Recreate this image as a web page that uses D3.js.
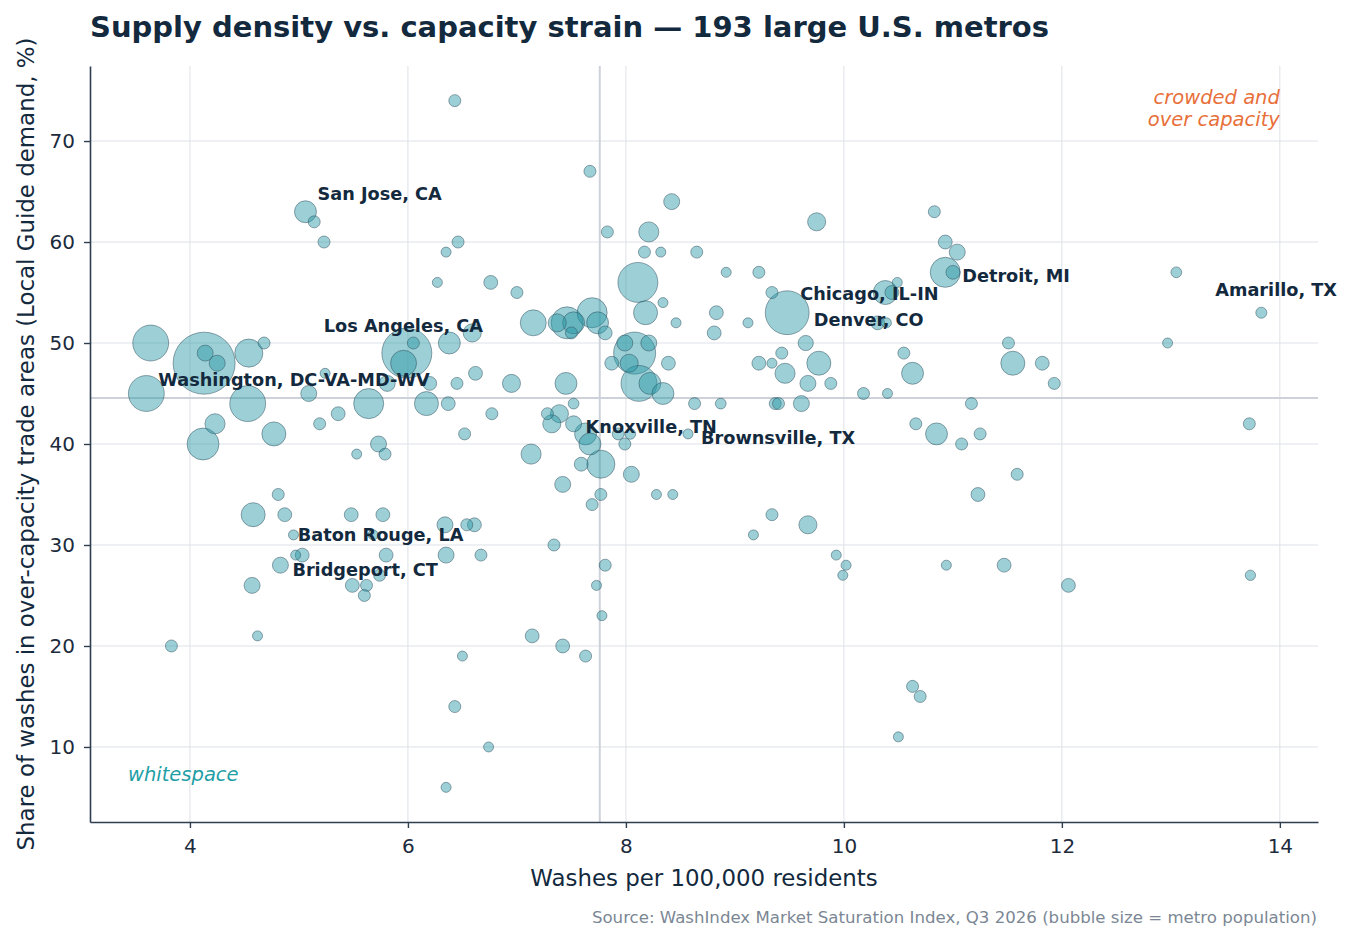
<!DOCTYPE html>
<html>
<head>
<meta charset="utf-8">
<script src="https://cdn.jsdelivr.net/npm/d3@7"></script>
<style>
	body { margin: 0; background: #fff; font-family: 'DejaVu Sans', sans-serif; }
	svg text { font-family: 'DejaVu Sans', sans-serif; }
</style>
</head>
<body>
<script>
// first 11 metros are the labelled ones
const NAMES = ['San Jose, CA', 'Los Angeles, CA', 'Washington, DC-VA-MD-WV', 'Chicago, IL-IN', 'Denver, CO',
	'Detroit, MI', 'Amarillo, TX', 'Knoxville, TN', 'Brownsville, TX', 'Baton Rouge, LA', 'Bridgeport, CT'];

// washes per 100,000 residents
const WASHES = [
	5.06, 5.99, 3.60, 9.48, 9.65, 10.93, 13.83, 7.52, 8.57, 4.87, 4.83,
	6.43, 7.67, 8.42, 10.83, 5.14, 9.75, 7.83, 8.21, 5.23, 6.46, 10.93,
	6.35, 8.17, 8.32, 8.65, 11.04, 8.92, 9.22, 11.00, 13.05,
	6.27, 6.76, 8.11, 10.49, 7.00, 9.34, 10.38, 10.44, 8.34,
	7.69, 8.18, 8.83,
	7.15, 7.37, 7.46, 7.52, 7.74, 8.46, 9.12, 10.31, 10.39,
	6.59, 7.50, 7.81, 8.81,
	3.64, 4.68, 6.05, 6.38, 7.99, 8.21, 11.51, 12.97,
	4.14, 4.54, 8.08, 9.43, 10.55,
	4.13, 4.25, 5.96, 7.87, 8.03, 8.39, 9.22, 9.34, 9.77, 11.55, 11.82,
	5.24, 6.62, 9.46, 10.63,
	5.81, 6.20, 6.45, 6.95, 7.45, 8.12, 8.22, 9.67, 9.88, 11.93,
	5.09, 8.34, 10.18, 10.40,
	4.53, 5.64, 6.17, 6.37, 7.52, 8.63, 8.87, 9.37, 9.40, 9.61, 11.17,
	5.36, 6.77, 7.28, 7.39,
	4.23, 5.19, 7.32, 10.66, 13.72,
	4.77, 6.52, 7.63, 7.93, 8.04, 10.85, 11.25,
	4.12, 5.73, 7.67, 7.99, 11.08,
	5.53, 5.79, 7.13, 7.59, 7.77, 8.05, 11.59, 7.42,
	4.81, 7.77, 8.28, 8.43, 11.23, 7.69,
	4.58, 5.48, 5.77, 9.34,
	6.34, 6.54, 6.61, 9.67,
	4.95, 5.68, 9.17, 7.34,
	4.97, 5.03, 5.80, 6.35, 6.67, 9.93,
	7.81, 10.02, 10.94, 11.47,
	5.74, 9.99, 13.73,
	4.57, 5.49, 5.62, 7.73, 12.06, 5.60, 7.78,
	4.62, 7.14, 3.83, 7.42, 6.50, 7.63,
	10.63, 10.70, 6.43, 10.50, 6.74, 6.35
];

// share of washes in over-capacity trade areas, %
const OVER_CAP = [
	63, 49, 45, 53, 50, 57, 53, 42, 41, 33, 28,
	74, 67, 64, 63, 62, 62, 61, 61, 60, 60, 60,
	59, 59, 59, 59, 59, 57, 57, 57, 57,
	56, 56, 56, 56, 55, 55, 55, 55, 54,
	53, 53, 53,
	52, 52, 52, 52, 52, 52, 52, 52, 52,
	51, 51, 51, 51,
	50, 50, 50, 50, 50, 50, 50, 50,
	49, 49, 49, 49, 49,
	48, 48, 48, 48, 48, 48, 48, 48, 48, 48, 48,
	47, 47, 47, 47,
	46, 46, 46, 46, 46, 46, 46, 46, 46, 46,
	45, 45, 45, 45,
	44, 44, 44, 44, 44, 44, 44, 44, 44, 44, 44,
	43, 43, 43, 43,
	42, 42, 42, 42, 42,
	41, 41, 41, 41, 41, 41, 41,
	40, 40, 40, 40, 40,
	39, 39, 39, 38, 38, 37, 37, 36,
	35, 35, 35, 35, 35, 34,
	33, 33, 33, 33,
	32, 32, 32, 32,
	31, 31, 31, 30,
	29, 29, 29, 29, 29, 29,
	28, 28, 28, 28,
	27, 27, 27,
	26, 26, 26, 26, 26, 25, 23,
	21, 21, 20, 20, 19, 19,
	16, 15, 14, 11, 10, 6
];

// metro population, millions
const POP = [
	2.5, 13.0, 6.7, 10.0, 1.2, 4.7, 0.63, 1.33, 0.52, 1.0, 1.33,
	0.75, 0.75, 1.33, 0.75, 0.75, 1.7, 0.75, 2.1, 0.75, 0.75, 1.0,
	0.52, 0.75, 0.52, 0.75, 1.33, 0.52, 0.75, 1.0, 0.6,
	0.52, 1.0, 8.3, 0.52, 0.75, 0.75, 3.0, 1.0, 0.52,
	4.7, 3.0, 1.0,
	3.5, 1.7, 5.3, 2.5, 2.5, 0.52, 0.52, 1.0, 0.52,
	1.7, 0.75, 1.0, 1.0,
	6.7, 0.75, 0.75, 2.5, 1.33, 1.33, 0.75, 0.52,
	1.33, 4.1, 9.2, 0.75, 0.75,
	20.0, 1.33, 3.5, 1.0, 1.7, 1.0, 1.0, 0.52, 3.0, 3.0, 1.0,
	0.52, 1.0, 2.1, 2.5,
	1.33, 1.0, 0.75, 1.7, 2.5, 6.7, 2.5, 1.33, 0.75, 0.75,
	1.33, 2.5, 0.75, 0.52,
	6.7, 4.7, 3.0, 1.0, 0.6, 0.75, 0.6, 0.75, 0.75, 1.33, 0.75,
	1.0, 0.75, 0.75, 1.7,
	2.1, 0.75, 1.7, 0.75, 0.75,
	3.0, 0.75, 2.5, 0.75, 0.6, 2.5, 0.75,
	5.3, 1.33, 2.5, 0.75, 0.75,
	0.52, 0.75, 2.1, 1.0, 4.1, 1.33, 0.75, 1.33,
	0.75, 0.75, 0.52, 0.52, 1.0, 0.75,
	3.0, 1.0, 1.0, 0.75,
	1.33, 0.75, 1.0, 1.7,
	0.52, 0.52, 0.52, 0.75,
	0.52, 1.0, 1.0, 1.33, 0.75, 0.52,
	0.75, 0.52, 0.52, 1.0,
	0.75, 0.52, 0.55,
	1.33, 1.0, 0.75, 0.52, 1.0, 0.75, 0.52,
	0.52, 1.0, 0.75, 1.0, 0.52, 0.75,
	0.75, 0.75, 0.75, 0.52, 0.52, 0.52
];

const X_TICKS = [4, 6, 8, 10, 12, 14];
const Y_TICKS = [10, 20, 30, 40, 50, 60, 70];
const MEDIAN_WASHES = 7.76;
const MEDIAN_OVER_CAP = 44.55;

const W = 1353, H = 942;
const M = { left: 90, right: 1318, top: 66, bottom: 822 };

let metros = WASHES.map((w, i) => ({ washes: w, overCap: OVER_CAP[i], pop: POP[i], name: NAMES[i] || null }));

let svg = d3.select('body').append('svg')
	.attr('width', W)
	.attr('height', H);

let x = d3.scaleLinear().domain([3.083, 14.35]).range([M.left, M.right]);
let y = d3.scaleLinear().domain([2.57, 77.43]).range([M.bottom, M.top]);
let r = d3.scaleSqrt().domain([0, 20]).range([0, 31]);

// grid
svg.append('g').selectAll('line')
	.data(X_TICKS)
	.enter().append('line')
	.attr('x1', d => x(d)).attr('x2', d => x(d))
	.attr('y1', M.top).attr('y2', M.bottom)
	.attr('stroke', '#dde1e7').attr('stroke-width', 1);
svg.append('g').selectAll('line')
	.data(Y_TICKS)
	.enter().append('line')
	.attr('x1', M.left).attr('x2', M.right)
	.attr('y1', d => y(d)).attr('y2', d => y(d))
	.attr('stroke', '#dde1e7').attr('stroke-width', 1);

// median guides
svg.append('line')
	.attr('x1', x(MEDIAN_WASHES)).attr('x2', x(MEDIAN_WASHES))
	.attr('y1', M.top).attr('y2', M.bottom)
	.attr('stroke', '#cdd1d9').attr('stroke-width', 2);
svg.append('line')
	.attr('x1', M.left).attr('x2', M.right)
	.attr('y1', y(MEDIAN_OVER_CAP)).attr('y2', y(MEDIAN_OVER_CAP))
	.attr('stroke', '#cdd1d9').attr('stroke-width', 2);

// bubbles, biggest at the back
svg.append('g').selectAll('circle')
	.data(metros.slice().sort((a, b) => b.pop - a.pop))
	.enter().append('circle')
	.attr('cx', d => x(d.washes))
	.attr('cy', d => y(d.overCap))
	.attr('r', d => r(d.pop))
	.attr('fill', '#2597a4')
	.attr('fill-opacity', 0.45)
	.attr('stroke', '#2c4c5c')
	.attr('stroke-opacity', 0.55)
	.attr('stroke-width', 0.9);

// axes
let xAxis = svg.append('g')
	.attr('transform', `translate(0,${M.bottom})`)
	.call(d3.axisBottom(x).tickValues(X_TICKS).tickSize(6).tickPadding(11).tickSizeOuter(0));
let yAxis = svg.append('g')
	.attr('transform', `translate(${M.left},0)`)
	.call(d3.axisLeft(y).tickValues(Y_TICKS).tickSize(6).tickPadding(9).tickSizeOuter(0));
[xAxis, yAxis].forEach(a => {
	a.select('.domain').attr('stroke', '#2d3e50').attr('stroke-width', 1.6);
	a.selectAll('.tick line').attr('stroke', '#2d3e50').attr('stroke-width', 1.4);
	a.selectAll('.tick text').attr('fill', '#1c2b3c').style('font-size', '20px');
});

// labels
const NUDGE = {
	'San Jose, CA': [12, -18], 'Los Angeles, CA': [-83, -27], 'Washington, DC-VA-MD-WV': [12, -14],
	'Chicago, IL-IN': [13, -19], 'Denver, CO': [8, -23], 'Detroit, MI': [17, 3], 'Amarillo, TX': [-46, -23],
	'Knoxville, TN': [12, 3], 'Brownsville, TX': [13, 4], 'Baton Rouge, LA': [13, 20], 'Bridgeport, CT': [12, 4]
};
svg.append('g').selectAll('text')
	.data(metros.filter(d => d.name))
	.enter().append('text')
	.attr('x', d => x(d.washes) + NUDGE[d.name][0])
	.attr('y', d => y(d.overCap) + NUDGE[d.name][1])
	.attr('dy', '0.36em')
	.attr('fill', '#13293d')
	.style('font-size', '17.7px')
	.style('font-weight', 'bold')
	.text(d => d.name);

// quadrant notes
let note = svg.append('text')
	.attr('text-anchor', 'end')
	.attr('fill', '#e8703a')
	.style('font-size', '19.5px')
	.style('font-style', 'italic');
note.append('tspan').attr('x', x(14)).attr('y', 104).text('crowded and');
note.append('tspan').attr('x', x(14)).attr('y', 126).text('over capacity');
svg.append('text')
	.attr('x', 128).attr('y', 781)
	.attr('fill', '#1f9ea6')
	.style('font-size', '19.5px')
	.style('font-style', 'italic')
	.text('whitespace');

// titles
svg.append('text')
	.attr('x', 90).attr('y', 37)
	.attr('fill', '#13293d')
	.style('font-size', '29px')
	.style('font-weight', 'bold')
	.text('Supply density vs. capacity strain — 193 large U.S. metros');
svg.append('text')
	.attr('x', (M.left + M.right) / 2).attr('y', 886)
	.attr('text-anchor', 'middle')
	.attr('fill', '#13293d')
	.style('font-size', '22.9px')
	.text('Washes per 100,000 residents');
svg.append('text')
	.attr('transform', `translate(34,${(M.top + M.bottom) / 2}) rotate(-90)`)
	.attr('text-anchor', 'middle')
	.attr('fill', '#13293d')
	.style('font-size', '22.9px')
	.text('Share of washes in over-capacity trade areas (Local Guide demand, %)');
svg.append('text')
	.attr('x', 1317).attr('y', 923)
	.attr('text-anchor', 'end')
	.attr('fill', '#7b8794')
	.style('font-size', '16.6px')
	.text('Source: WashIndex Market Saturation Index, Q3 2026 (bubble size = metro population)');
</script>
</body>
</html>
